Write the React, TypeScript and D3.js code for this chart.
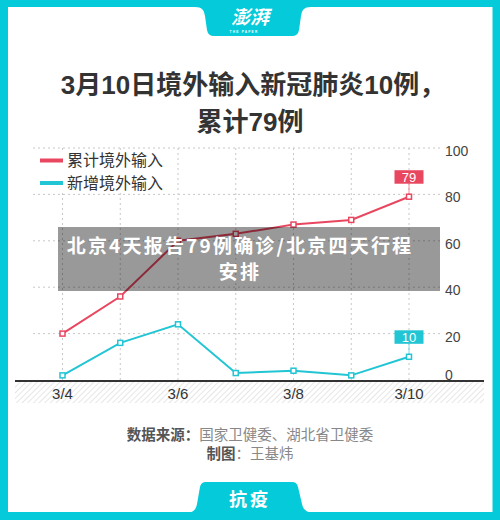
import React from "react";
import * as d3 from "d3";

const dates = ["3/4", "3/5", "3/6", "3/7", "3/8", "3/9", "3/10"];
const xTickLabels = ["3/4", "3/6", "3/8", "3/10"];
const cumulative = [20, 36, 60, 63, 67, 69, 79];
const newCases = [2, 16, 24, 3, 4, 2, 10];
const yTicks = [0, 20, 40, 60, 80, 100];
const seriesNames = ["累计境外输入", "新增境外输入"];
const titleLines = ["3月10日境外输入新冠肺炎10例，", "累计79例"];
const overlayLines = ["北京4天报告79例确诊/北京四天行程", "安排"];

const RED = "#e8475f";
const TEAL = "#22c5d3";
const FRAME = "#04cad9";
const FONT = "'Liberation Sans', 'Noto Sans CJK SC', sans-serif";
const CJK = "'Noto Sans CJK SC', 'Liberation Sans', sans-serif";

export default function App() {
  const x = d3.scalePoint<string>().domain(dates).range([62.5, 409]);
  const y = d3.scaleLinear().domain([0, 100]).range([380, 148]);
  const line = d3
    .line<number>()
    .x((_, i) => x(dates[i]) as number)
    .y((d) => y(d));

  const series = [
    { name: seriesNames[0], values: cumulative, color: RED },
    { name: seriesNames[1], values: newCases, color: TEAL },
  ];
  const lastIdx = dates.length - 1;

  return (
    <div style={{ position: "absolute", left: 0, top: 0 }}>
      <svg width={500} height={520} style={{ display: "block" }}>
        <defs>
          <pattern id="hatch" width="4" height="4" patternUnits="userSpaceOnUse" patternTransform="rotate(45)">
            <rect width="4" height="4" fill="#fff" />
            <line x1="0" y1="0" x2="0" y2="4" stroke="#d6d6d6" strokeWidth="1.2" />
          </pattern>
        </defs>
        {/* frame */}
        <rect x={0} y={0} width={500} height={520} fill={FRAME} />
        <rect x={8} y={7} width={484.5} height={505} fill="#fff" />
        {/* top tab */}
        <path
          d="M 195 7 C 202 7, 204 10, 205 16 L 207 30 Q 208 36 214 36 L 292 36 Q 298 36 299 30 L 301 16 C 302 10, 304 7, 311 7 Z"
          fill={FRAME}
        />
        <text x={250} y={24} textAnchor="middle" fill="#fff" fontSize={19} fontFamily={CJK} fontWeight={700} fontStyle="italic">
          澎湃
        </text>
        <text x={244} y={32.5} textAnchor="middle" fill="#fff" fontSize={3.2} fontFamily={FONT} fontWeight={700} letterSpacing={1.2}>
          THE PAPER
        </text>
        {/* bottom tab */}
        <path
          d="M 188 512.5 C 194 512.5, 196 509, 197 504 L 200 487 Q 201 482 206 482 L 292 482 Q 297 482 298 487 L 302 504 C 303 509, 306 512.5, 312 512.5 Z"
          fill={FRAME}
        />
        <text x={250} y={506} textAnchor="middle" fill="#fff" fontSize={18} fontFamily={CJK} fontWeight={700} letterSpacing={3}>
          抗疫
        </text>

        {/* title */}
        {titleLines.map((t, i) => (
          <text key={i} x={i === 0 ? 253 : 250} y={94 + i * 37} textAnchor="middle" fill="#333" fontSize={26} fontFamily={FONT} fontWeight={600}>
            {t}
          </text>
        ))}

        {/* gridlines */}
        {yTicks.filter((t) => t > 0).map((t) => (
          <line key={"h" + t} x1={33} x2={440} y1={y(t)} y2={y(t)} stroke="#c8c8c8" strokeWidth={1} strokeDasharray="2,3" />
        ))}
        {dates.map((d) => (
          <line key={"v" + d} x1={x(d)} x2={x(d)} y1={y(100)} y2={y(0)} stroke="#c8c8c8" strokeWidth={1} strokeDasharray="2,3" />
        ))}

        {/* legend */}
        <rect x={36} y={150} width={132} height={42} fill="#fff" />
        {series.map((s, i) => (
          <g key={s.name} transform={`translate(0, ${160.5 + i * 22.5})`}>
            <line x1={40} x2={63} y1={0} y2={0} stroke={s.color} strokeWidth={4} />
            <text x={67} y={0} dy="0.35em" fill="#333" fontSize={16} fontFamily={CJK}>
              {s.name}
            </text>
          </g>
        ))}

        {/* y tick labels */}
        {yTicks.map((t) => (
          <text key={"yt" + t} x={445} y={t === 0 ? y(t) - 5 : y(t) + 3} dy="0.35em" fill="#444" fontSize={14} fontFamily={FONT}>
            {t}
          </text>
        ))}

        {/* x axis band */}
        <rect x={15} y={381} width={469} height={22} fill="url(#hatch)" />
        <line x1={15} x2={484} y1={381} y2={381} stroke="#333" strokeWidth={2} />
        {xTickLabels.map((d) => (
          <text key={"xt" + d} x={x(d)} y={394} dy="0.35em" textAnchor="middle" fill="#333" fontSize={15} fontFamily={FONT}>
            {d}
          </text>
        ))}

        {/* series */}
        {series.map((s) => (
          <g key={"s" + s.name}>
            <path d={line(s.values) || ""} fill="none" stroke={s.color} strokeWidth={2} />
            {s.values.map((v, i) => (
              <rect key={i} x={(x(dates[i]) as number) - 2.5} y={y(v) - 2.5} width={5} height={5} fill="#fff" stroke={s.color} strokeWidth={1.5} />
            ))}
          </g>
        ))}

        {/* end labels */}
        {series.map((s) => {
          const v = s.values[lastIdx];
          const cx = x(dates[lastIdx]) as number;
          const py = y(v);
          const bottom = py - 13;
          return (
            <g key={"l" + s.name}>
              <line x1={cx} x2={cx} y1={bottom} y2={py - 2.5} stroke={s.color} strokeOpacity={0.6} strokeWidth={1} />
              <rect x={cx - 14.5} y={bottom - 13.5} width={29} height={13.5} fill={s.color} />
              <text x={cx} y={bottom - 6.5} dy="0.36em" textAnchor="middle" fill="#fff" fontSize={13} fontFamily={FONT}>
                {v}
              </text>
            </g>
          );
        })}

        {/* overlay */}
        <rect x={58} y={227} width={382} height={64} fill="rgba(0,0,0,0.4)" />
        {overlayLines.map((t, i) => (
          <text key={"o" + i} x={240} y={246 + i * 26} dy="0.36em" textAnchor="middle" fill="#fff" fontSize={19} fontFamily={CJK} fontWeight={700} letterSpacing={2.2}>
            {t}
          </text>
        ))}

        {/* source */}
        <text x={250} y={435} dy="0.36em" textAnchor="middle" fontSize={14.5} fontFamily={CJK}>
          <tspan fill="#555" fontWeight={700}>数据来源：</tspan>
          <tspan fill="#888">国家卫健委、湖北省卫健委</tspan>
        </text>
        <text x={250} y={454} dy="0.36em" textAnchor="middle" fontSize={14.5} fontFamily={CJK}>
          <tspan fill="#555" fontWeight={700}>制图</tspan>
          <tspan fill="#888">：王基炜</tspan>
        </text>
      </svg>
    </div>
  );
}
